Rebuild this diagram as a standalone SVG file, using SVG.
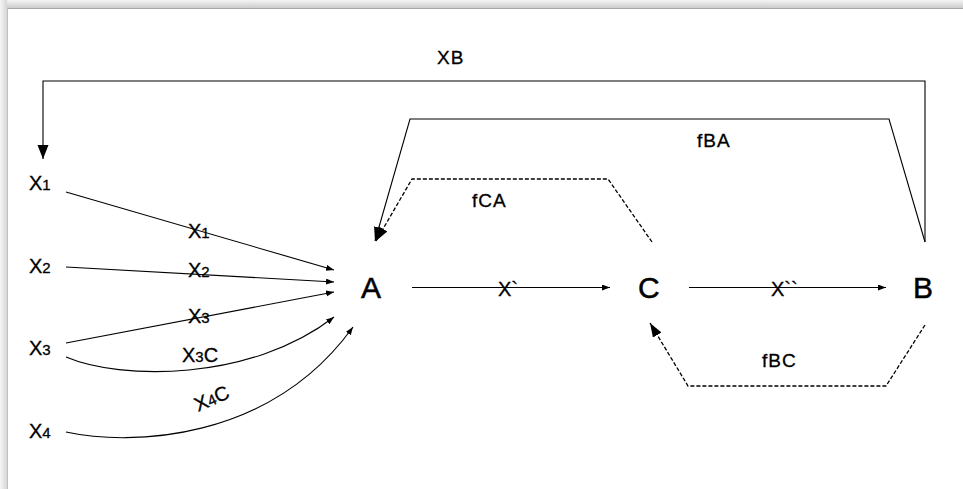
<svg xmlns="http://www.w3.org/2000/svg" width="963" height="489" viewBox="0 0 963 489">
<defs>
<linearGradient id="gTop" x1="0" y1="0" x2="0" y2="1"><stop offset="0" stop-color="#f4f4f4"/><stop offset="1" stop-color="#cdcdcd"/></linearGradient>
<linearGradient id="gLeft" x1="0" y1="0" x2="1" y2="0"><stop offset="0" stop-color="#f6f6f6"/><stop offset="1" stop-color="#d6d6d6"/></linearGradient>
<marker id="sm" markerUnits="userSpaceOnUse" markerWidth="10" markerHeight="8" refX="8" refY="3" orient="auto"><path d="M0,0 L8,3 L0,6 z" fill="#000"/></marker>
<marker id="big" markerUnits="userSpaceOnUse" markerWidth="16" markerHeight="14" refX="14" refY="5.5" orient="auto"><path d="M0,0 L14,5.5 L0,11 z" fill="#000"/></marker>
<marker id="fb" markerUnits="userSpaceOnUse" markerWidth="16" markerHeight="14" refX="14" refY="5" orient="auto"><path d="M0,0 L14,5 L0,10 z" fill="#000"/></marker>
</defs>
<style>
.t{font-family:"Liberation Sans",Arial,sans-serif;fill:#000;stroke:#000;stroke-width:0.3}
.n{font-size:20px}
.sub{font-size:15px}
.big{font-size:30px;stroke-width:0.5}
.lbl{font-size:19px;letter-spacing:1px}
.ln{fill:none;stroke:#000;stroke-width:1.1}
.ds{fill:none;stroke:#000;stroke-width:1.3;stroke-dasharray:4,2}
</style>
<rect x="0" y="0" width="963" height="489" fill="#fff"/>
<rect x="0" y="0" width="963" height="8" fill="url(#gTop)"/>
<rect x="0" y="0" width="7" height="489" fill="url(#gLeft)"/>
<line x1="7" y1="8.5" x2="963" y2="8.5" stroke="#a8a8a8"/>
<line x1="7.5" y1="8" x2="7.5" y2="489" stroke="#c0c0c0"/>

<g id="connectors">
<path class="ln" d="M925,242 V81 H43 V159" marker-end="url(#big)"/>
<path class="ln" d="M925,242 L889,119 H410 L375,241" marker-end="url(#fb)"/>
<path class="ds" d="M652,242 L608,179 H412 L376,241" marker-end="url(#fb)"/>
<path class="ds" d="M925,325 L886,386 H688 L650,323" marker-end="url(#fb)"/>
<path class="ln" d="M66,192 L334,270" marker-end="url(#sm)"/>
<path class="ln" d="M66,267 L334,282" marker-end="url(#sm)"/>
<path class="ln" d="M66,343 L334,292" marker-end="url(#sm)"/>
<path class="ln" d="M66,357 C120,380 250,382 334,317" marker-end="url(#sm)"/>
<path class="ln" d="M66,432 C130,446 270,442 353,327" marker-end="url(#sm)"/>
<path class="ln" d="M412,287.5 H610" marker-end="url(#sm)"/>
<path class="ln" d="M689,287.5 H886" marker-end="url(#sm)"/>
<text class="t lbl" x="437" y="64">XB</text>
<text class="t lbl" x="697" y="147">fBA</text>
<text class="t lbl" x="472" y="207">fCA</text>
<text class="t lbl" x="762" y="367">fBC</text>
<text class="t n" x="188" y="238">X<tspan class="sub">1</tspan></text>
<text class="t n" x="188" y="277">X<tspan class="sub">2</tspan></text>
<text class="t n" x="188" y="323">X<tspan class="sub">3</tspan></text>
<text class="t n" x="182" y="362">X<tspan class="sub">3</tspan>C</text>
<text class="t n" x="198" y="412" transform="rotate(-24 198 412)">X<tspan class="sub">4</tspan>C</text>
<text class="t n" x="498" y="296">X`</text>
<text class="t n" x="771" y="296">X``</text>
</g>

<g id="X1"><text class="t n" x="29" y="190">X<tspan class="sub">1</tspan></text></g>
<g id="X2"><text class="t n" x="29" y="273">X<tspan class="sub">2</tspan></text></g>
<g id="X3"><text class="t n" x="29" y="355">X<tspan class="sub">3</tspan></text></g>
<g id="X4"><text class="t n" x="29" y="438">X<tspan class="sub">4</tspan></text></g>
<g id="A"><text class="t big" x="361" y="298">A</text></g>
<g id="C"><text class="t big" x="638" y="298">C</text></g>
<g id="B"><text class="t big" x="913" y="298">B</text></g>
</svg>
